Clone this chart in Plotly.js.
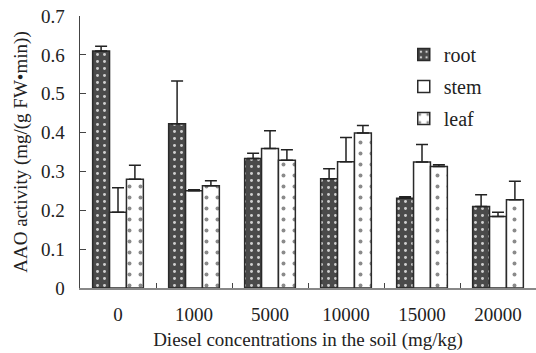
<!DOCTYPE html>
<html>
<head>
<meta charset="utf-8">
<script src="https://cdn.plot.ly/plotly-3.0.1.min.js"></script>
<style>html,body{margin:0;padding:0;background:#fff;}#chart{width:536px;height:353px;}</style>
</head>
<body>
<div id="chart"></div>
<script>
var categories = ["0", "1000", "5000", "10000", "15000", "20000"];
var rootValues = [0.610, 0.423, 0.333, 0.281, 0.231, 0.210];
var rootErrors = [0.012, 0.110, 0.014, 0.026, 0.004, 0.030];
var stemValues = [0.195, 0.250, 0.359, 0.325, 0.324, 0.184];
var stemErrors = [0.063, 0.003, 0.046, 0.062, 0.045, 0.011];
var leafValues = [0.280, 0.263, 0.329, 0.399, 0.313, 0.227];
var leafErrors = [0.036, 0.013, 0.027, 0.019, 0.004, 0.048];
var seriesNames = ["root", "stem", "leaf"];
var yTicks = [0, 0.1, 0.2, 0.3, 0.4, 0.5, 0.6, 0.7];

function zeros(n){ var a=[]; for(var i=0;i<n;i++) a.push(0); return a; }
var font = "Liberation Serif";
var errStyle = function(arr){ return {type:"data", symmetric:false, array:arr, arrayminus:zeros(arr.length), color:"#222", thickness:1.5, width:6}; };

var traces = [
  {type:"bar", name:seriesNames[0], x:categories, y:rootValues, error_y:errStyle(rootErrors), legendgroup:"a",
   marker:{color:"#4a4a4a", line:{color:"#2a2a2a", width:1.5}, pattern:{shape:".", bgcolor:"#4a4a4a", fgcolor:"#d0d0d0", size:7, solidity:0.14, fillmode:"replace"}}},
  {type:"bar", name:seriesNames[1], x:categories, y:stemValues, error_y:errStyle(stemErrors), legendgroup:"b",
   marker:{color:"#ffffff", line:{color:"#2a2a2a", width:1.5}}},
  {type:"bar", name:seriesNames[2], x:categories, y:leafValues, error_y:errStyle(leafErrors), legendgroup:"c",
   marker:{color:"#ffffff", line:{color:"#2a2a2a", width:1.5}, pattern:{shape:".", bgcolor:"#ffffff", fgcolor:"#8a8a8a", size:11, solidity:0.1, fillmode:"replace"}}}
];

var layout = {
  width:536, height:353,
  margin:{l:80, r:0, t:16, b:65},
  paper_bgcolor:"#fff", plot_bgcolor:"#fff",
  font:{family:font, size:19, color:"#222"},
  barmode:"group", bargap:0.333, bargroupgap:0,
  showlegend:true,
  legend:{x:0.71, y:0.93, xanchor:"left", yanchor:"top", bgcolor:"rgba(0,0,0,0)", traceorder:"grouped", tracegroupgap:3, font:{family:font, size:20, color:"#222"}},
  xaxis:{type:"category", range:[-0.5,5.5], showline:true, linecolor:"#888", linewidth:1.5, ticks:"inside", tickson:"boundaries", ticklen:5, tickcolor:"#444", tickwidth:1,
         showgrid:false, zeroline:false, tickfont:{family:font, size:19, color:"#222"}, ticklabelstandoff:9,
         title:{text:"Diesel concentrations in the soil (mg/kg)", font:{family:font, size:19, color:"#222"}, standoff:8}},
  yaxis:{range:[0,0.7], tickvals:yTicks, ticktext:yTicks.map(String), showline:true, linecolor:"#444", linewidth:1.5, ticks:"inside", ticklen:6, tickcolor:"#444",
         showgrid:false, zeroline:false, tickfont:{family:font, size:19, color:"#222"}, ticklabelstandoff:10,
         title:{text:"AAO activity (mg/(g FW\u2022min))", font:{family:font, size:19, color:"#222"}, standoff:8}}
};

Plotly.newPlot("chart", traces, layout, {displayModeBar:false, staticPlot:true});
</script>
</body>
</html>
